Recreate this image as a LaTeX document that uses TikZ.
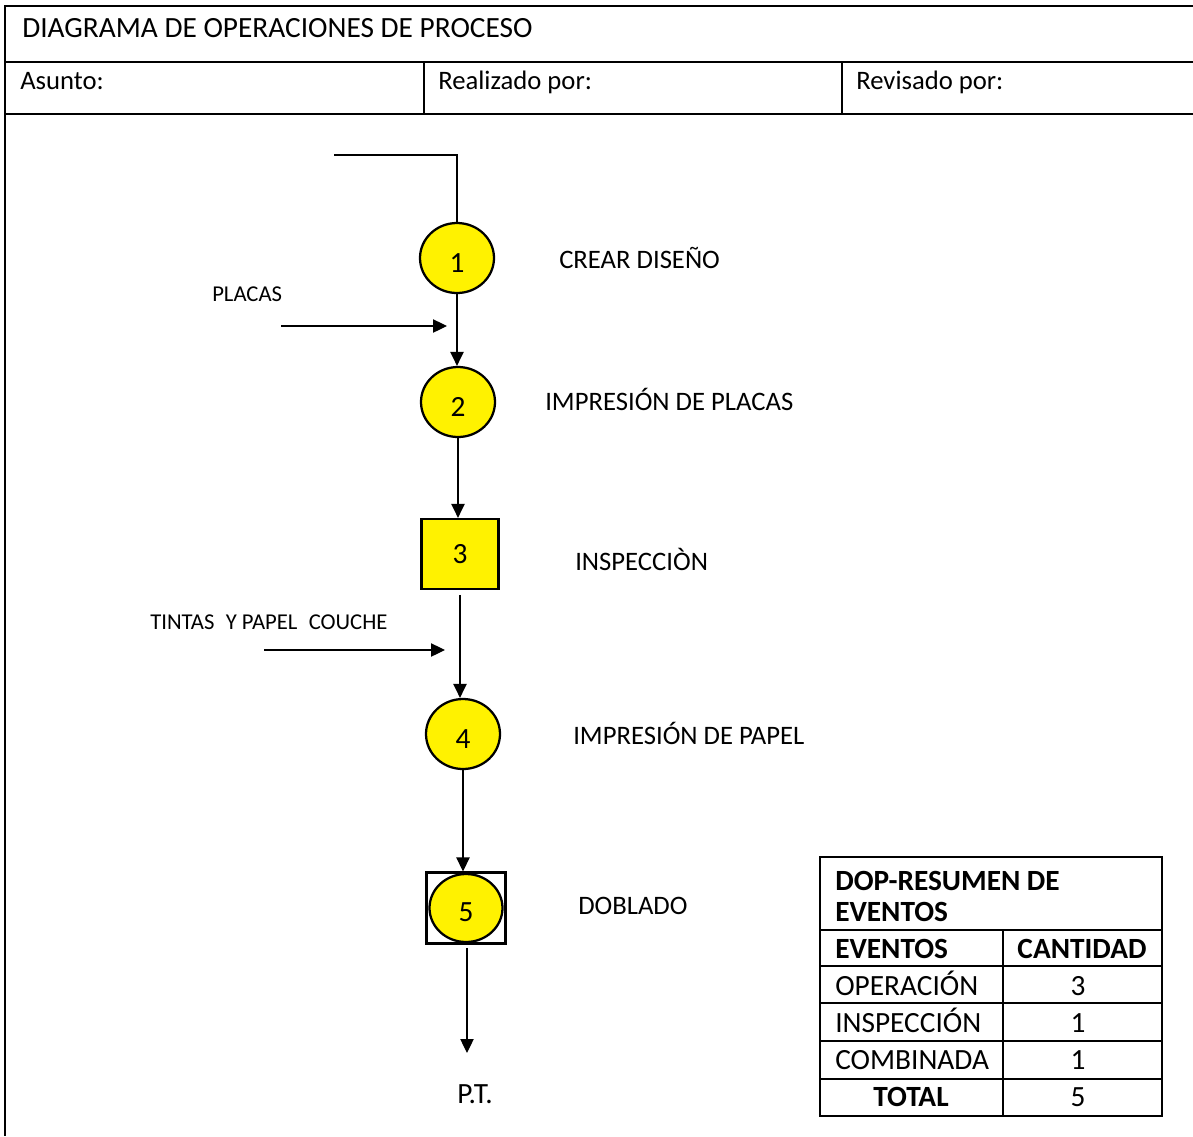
\documentclass[tikz,border=0pt]{standalone}
\usepackage{fontspec}
\setmainfont{Carlito}
\usetikzlibrary{arrows.meta,shapes.geometric}
\newcommand{\stepnum}[1]{\raisebox{-3.5pt}[\height][\depth]{#1}}
\begin{document}
\begin{tikzpicture}[x=0.75pt,y=-0.75pt,
  frame/.style={line width=1.6pt},
  conn/.style={line width=0.9pt},
  arr/.style={conn,-{Triangle[length=10.5pt,width=10pt]}},
  big/.style={font=\fontsize{22}{26}\selectfont, inner sep=0pt},
  txt/.style={font=\fontsize{20}{24}\selectfont, inner sep=0pt},
  small/.style={font=\fontsize{17}{20}\selectfont, inner sep=0pt},
  bold/.style={font=\fontsize{22}{26}\selectfont\bfseries, inner sep=0pt},
  op/.style={ellipse, draw, line width=1.7pt, fill=yellow, inner sep=0pt,
    minimum width=55.5pt, minimum height=52.5pt, font=\fontsize{22}{26}\selectfont},
  insp/.style={rectangle, draw, line width=1.7pt, fill=yellow, inner sep=0pt,
    minimum width=57.75pt, minimum height=52.5pt, font=\fontsize{22}{26}\selectfont},
  combo/.style={rectangle, draw, line width=1.6pt, fill=white, inner sep=0pt,
    minimum width=59.25pt, minimum height=53.25pt}
]
\useasboundingbox (0,0) rectangle (1193,1136);

% header frame
\draw[frame] (1193,6) -- (5,6) -- (5,1136);
\draw[frame] (5,62) -- (1193,62);
\draw[frame] (5,114) -- (1193,114);
\draw[frame] (424,62) -- (424,114);
\draw[frame] (842,62) -- (842,114);

\node[big, anchor=base west] (title) at (22,37) {DIAGRAMA DE OPERACIONES DE PROCESO};
\node[txt, anchor=base west] (asunto) at (20,89) {Asunto:};
\node[txt, anchor=base west] (realizado) at (438,89) {Realizado por:};
\node[txt, anchor=base west] (revisado) at (856,89) {Revisado por:};

% process steps (numbers sit a little below the centre)
\node[op] (c1) at (457,258) {\stepnum{1}};
\node[op] (c2) at (458,402) {\stepnum{2}};
\node[insp] (s3) at (460,554) {3};
\node[op] (c4) at (463,734) {\stepnum{4}};
\node[combo] (n5) at (466,908) {};
\node[op, minimum width=54.75pt, minimum height=51pt] (c5) at (n5.center) {\stepnum{5}};

% step labels
\node[txt, anchor=base west] (l1) at (559,268) {CREAR DISEÑO};
\node[txt, anchor=base west] (l2) at (545,410) {IMPRESIÓN DE PLACAS};
\node[txt, anchor=base west] (l3) at (575,570) {INSPECCIÒN};
\node[txt, anchor=base west] (l4) at (573,744) {IMPRESIÓN DE PAPEL};
\node[txt, anchor=base west] (l5) at (578,914) {DOBLADO};

% material inputs
\node[small, anchor=base west] (placas) at (212,301) {PLACAS};
\node[small, anchor=base west] (tintas) at (150,629) {TINTAS\hspace{0.5em}Y PAPEL\hspace{0.5em}COUCHE};
\coordinate (pa) at (281,326);
\coordinate (pb) at (447,326);
\coordinate (ta) at (264,650);
\coordinate (tb) at (445,650);
\draw[arr] (pa) -- (pb);
\draw[arr] (ta) -- (tb);

% flow connectors
\coordinate (start) at (334,155);
\draw[conn] (start) -| (c1.north);
\draw[arr] (c1.south) -- (c1.south |- c2.north);
\draw[arr] (c2.south) -- (c2.south |- s3.north);
\draw[arr, shorten <=3.5pt] (s3.south) -- (s3.south |- c4.north);
\draw[arr] (c4.south) -- (c4.south |- n5.north);

\node[big] (pt) at (475,1094) {P.T.};
\coordinate (ptin) at (467,1053);
\draw[arr, shorten <=2.5pt] (n5.south -| ptin) -- (ptin);

% summary table
\draw[frame] (820,857) rectangle (1162,1116);
\foreach \yy in {930,966,1003,1041,1079}
  \draw[frame] (820,\yy) -- (1162,\yy);
\draw[frame] (1003,930) -- (1003,1116);

\node[bold, anchor=base west] (th1) at (835,890) {DOP-RESUMEN DE};
\node[bold, anchor=base west] (th2) at (835,921) {EVENTOS};
\node[bold, anchor=base west] (hev) at (835,958) {EVENTOS};
\node[bold, anchor=base] (hcant) at (1082,958) {CANTIDAD};
\node[big, anchor=base west] (r1) at (835,995) {OPERACIÓN};
\node[big, anchor=base] (v1) at (1078,995) {3};
\node[big, anchor=base west] (r2) at (835,1032) {INSPECCIÓN};
\node[big, anchor=base] (v2) at (1078,1032) {1};
\node[big, anchor=base west] (r3) at (835,1069) {COMBINADA};
\node[big, anchor=base] (v3) at (1078,1069) {1};
\node[bold, anchor=base] (rt) at (911,1106) {TOTAL};
\node[big, anchor=base] (vt) at (1078,1106) {5};
\end{tikzpicture}
\end{document}
